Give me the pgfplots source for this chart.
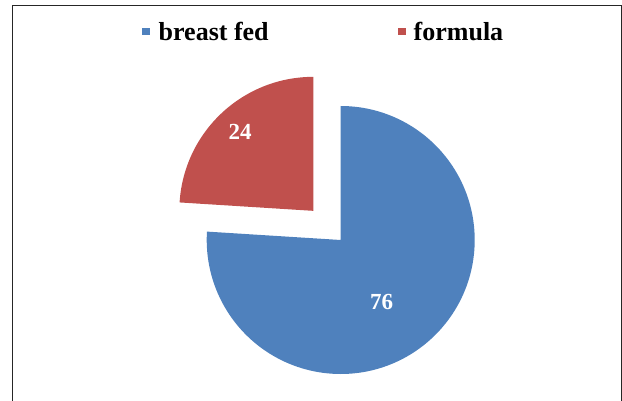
\documentclass[border=0pt]{standalone}
\usepackage{pgfplots}
\usepackage{pgfplotstable}
\pgfplotsset{compat=1.18}
\usepackage{fontspec}
\setmainfont{Liberation Serif}
\definecolor{pieblue}{HTML}{4F81BD}
\definecolor{piered}{HTML}{C0504D}
\pgfplotstableread{
label value
{breast fed} 76
formula 24
}\piedata
\begin{document}
\begin{tikzpicture}
\pgfplotstablegetelem{0}{value}\of\piedata \let\vA\pgfplotsretval
\pgfplotstablegetelem{1}{value}\of\piedata \let\vB\pgfplotsretval
\pgfmathsetmacro\fA{\vA/(\vA+\vB)}
\pgfmathsetmacro\fB{\vB/(\vA+\vB)}
\pgfmathsetmacro\aEnd{90-360*\fA}
\pgfmathsetmacro\bEnd{\aEnd-360*\fB}
\pgfmathsetmacro\bMid{(\aEnd+\bEnd)/2}
\pgfmathsetmacro\cx{340.7}
\pgfmathsetmacro\cy{160}
\pgfmathsetmacro\rcx{\cx+40*cos(\bMid)}
\pgfmathsetmacro\rcy{\cy+40*sin(\bMid)}
\begin{axis}[x=1pt,y=1pt,xmin=0,xmax=622,ymin=0,ymax=400,hide axis,clip=false]
% frame
\draw[line width=1.4pt,color=black!85] (axis cs:12.5,-5) -- (axis cs:12.5,394.7) -- (axis cs:621.3,394.7) -- (axis cs:621.3,-5);
% blue slice
\fill[pieblue] (axis cs:\cx,\cy) -- ([shift={(90:134pt)}]axis cs:\cx,\cy) arc[start angle=90,end angle=\aEnd,radius=134pt] -- cycle;
% red slice (exploded)
\fill[piered] (axis cs:\rcx,\rcy) -- ([shift={(\aEnd:134pt)}]axis cs:\rcx,\rcy) arc[start angle=\aEnd,end angle=\bEnd,radius=134pt] -- cycle;
% data labels
\node[text=white,font=\fontsize{23}{26}\selectfont\bfseries] at (axis cs:381.7,98.5) {\vA};
\node[text=white,font=\fontsize{23}{26}\selectfont\bfseries] at (axis cs:240,268) {\vB};
% legend
\fill[pieblue] (axis cs:141.5,364.5) rectangle (axis cs:149.5,372);
\node[anchor=base west,inner sep=0pt,font=\fontsize{26}{30}\selectfont\bfseries] at (axis cs:158.5,359) {breast fed};
\fill[piered] (axis cs:398,364.5) rectangle (axis cs:406,372);
\node[anchor=base west,inner sep=0pt,font=\fontsize{26}{30}\selectfont\bfseries] at (axis cs:413.5,359) {formula};
\end{axis}
\pgfresetboundingbox
\useasboundingbox (0,0) rectangle (622pt,400pt);
\end{tikzpicture}
\end{document}
